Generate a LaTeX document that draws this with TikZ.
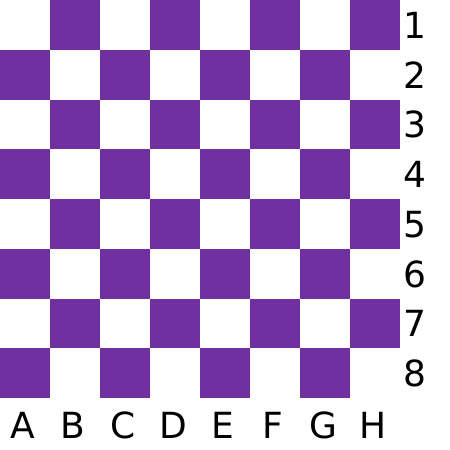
\documentclass[tikz,border=0pt]{standalone}
\usepackage{fontspec}
\setmainfont{DejaVu Sans}
\definecolor{boardpurple}{RGB}{112,48,160}
\begin{document}
\begin{tikzpicture}[x=1pt,y=-1pt,
  lbl/.style={anchor=base,inner sep=0pt,font=\fontsize{36}{36}\selectfont,text=black}]
\useasboundingbox[fill=white] (0,0) rectangle (450,450);
\foreach \i in {0,...,7}{
  \foreach \j in {0,...,7}{
    \pgfmathtruncatemacro{\sqpar}{mod(\i+\j,2)}
    \ifnum\sqpar=1
      \fill[boardpurple] (50*\i,49.75*\j) rectangle (50*\i+50,49.75*\j+49.75);
    \fi
  }
}
\foreach \r in {1,...,8}{
  \node[lbl] (row\r) at (415,{38.3+49.75*(\r-1)}) {\r};
}
\foreach \c [count=\k from 0] in {A,B,C,D,E,F,G,H}{
  \node[lbl] (col\c) at ({23+50*\k},438) {\c};
}
\end{tikzpicture}
\end{document}
